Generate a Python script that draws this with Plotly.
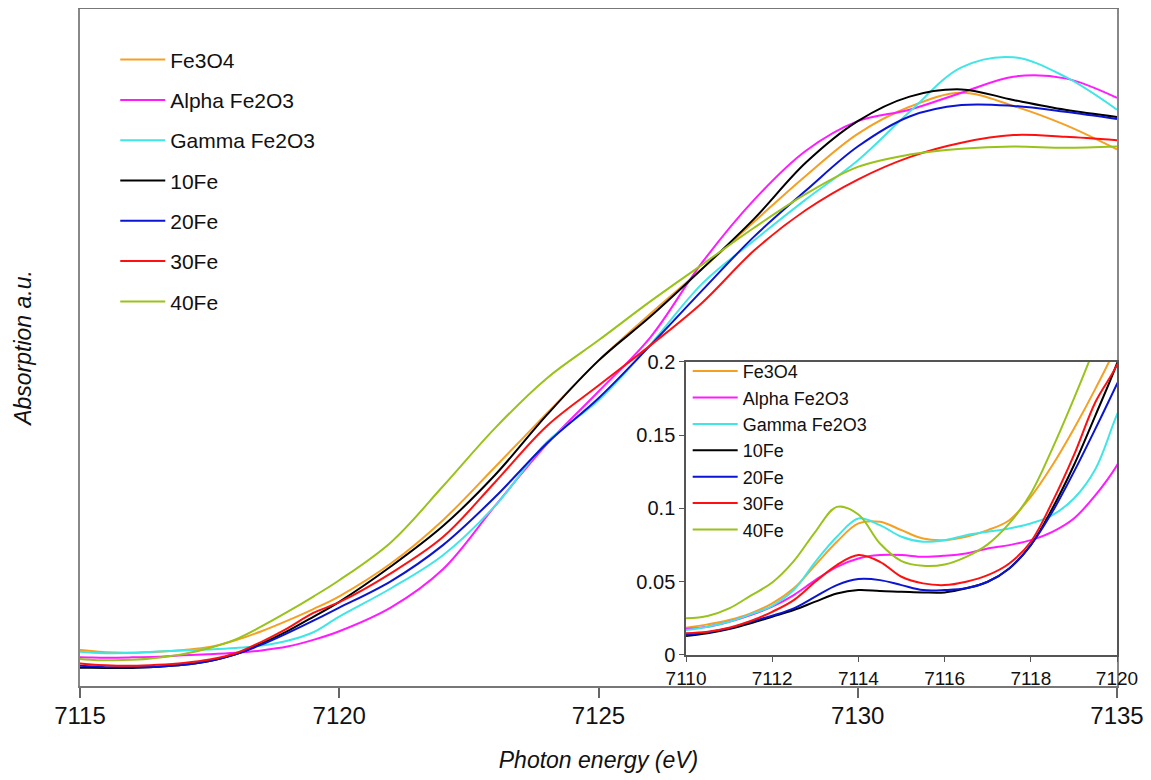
import plotly.graph_objects as go

# photon energy (eV): fine steps through the pre-edge, 1 eV steps above
energy = [7110, 7110.5, 7111, 7111.5, 7112, 7112.5, 7113, 7113.5, 7114, 7114.5,
          7115, 7115.5, 7116, 7116.5, 7117, 7117.5, 7118, 7118.5, 7119, 7119.5,
          7120, 7121, 7122, 7123, 7124, 7125, 7126, 7127, 7128, 7129,
          7130, 7131, 7132, 7133, 7134, 7135]

fe3o4 = [0.0186, 0.0209, 0.0239, 0.0284, 0.0352, 0.0455, 0.0614, 0.0773, 0.0898, 0.0909,
         0.0852, 0.0795, 0.0784, 0.0807, 0.0852, 0.092, 0.108, 0.1295, 0.1545, 0.1818,
         0.212, 0.290, 0.392, 0.517, 0.644, 0.769, 0.880, 0.986, 1.097, 1.206,
         1.305, 1.369, 1.402, 1.371, 1.326, 1.268]
alpha_fe2o3 = [0.0177, 0.0193, 0.0227, 0.0273, 0.033, 0.0409, 0.0511, 0.0602, 0.0659, 0.0682,
               0.0682, 0.067, 0.0677, 0.0693, 0.0727, 0.075, 0.0784, 0.0841, 0.0932, 0.1091,
               0.1295, 0.186, 0.276, 0.425, 0.571, 0.696, 0.824, 1.001, 1.149, 1.265,
               1.335, 1.362, 1.402, 1.440, 1.436, 1.390]
gamma_fe2o3 = [0.017, 0.0193, 0.0227, 0.0277, 0.0336, 0.0443, 0.0636, 0.0807, 0.0932, 0.0886,
               0.0807, 0.0773, 0.0784, 0.0818, 0.0841, 0.0864, 0.0898, 0.0955, 0.1068, 0.127,
               0.164, 0.231, 0.309, 0.425, 0.576, 0.675, 0.807, 0.951, 1.053, 1.150,
               1.242, 1.357, 1.462, 1.486, 1.440, 1.362]
fe10 = [0.013, 0.0148, 0.0177, 0.0216, 0.0261, 0.0307, 0.0364, 0.042, 0.0443, 0.0436,
        0.0432, 0.0427, 0.0427, 0.0455, 0.05, 0.0591, 0.075, 0.1, 0.1295, 0.1636,
        0.199, 0.283, 0.378, 0.498, 0.640, 0.769, 0.873, 0.986, 1.104, 1.237,
        1.335, 1.393, 1.410, 1.385, 1.362, 1.345]
fe20 = [0.0136, 0.0155, 0.0182, 0.0227, 0.0268, 0.0318, 0.0398, 0.0477, 0.0518, 0.0511,
        0.0477, 0.0443, 0.0443, 0.0455, 0.05, 0.0591, 0.075, 0.0977, 0.125, 0.1545,
        0.185, 0.248, 0.333, 0.446, 0.573, 0.680, 0.805, 0.935, 1.062, 1.171,
        1.275, 1.346, 1.373, 1.371, 1.357, 1.340]
fe30 = [0.0148, 0.0159, 0.0186, 0.0232, 0.0295, 0.0375, 0.05, 0.0614, 0.0682, 0.0636,
        0.0534, 0.0489, 0.0477, 0.05, 0.0545, 0.0625, 0.0773, 0.1045, 0.1364, 0.1727,
        0.198, 0.267, 0.352, 0.481, 0.614, 0.710, 0.805, 0.906, 1.029, 1.125,
        1.197, 1.250, 1.284, 1.302, 1.298, 1.290]
fe40 = [0.025, 0.0266, 0.0318, 0.0405, 0.0495, 0.0641, 0.0841, 0.1011, 0.0959, 0.0761,
        0.0641, 0.0609, 0.0618, 0.067, 0.0755, 0.0898, 0.1102, 0.1409, 0.175, 0.2114,
        0.250, 0.340, 0.472, 0.609, 0.727, 0.817, 0.909, 0.996, 1.083, 1.163,
        1.227, 1.256, 1.270, 1.275, 1.272, 1.275]

names = ['Fe3O4', 'Alpha Fe2O3', 'Gamma Fe2O3', '10Fe', '20Fe', '30Fe', '40Fe']
series = [fe3o4, alpha_fe2o3, gamma_fe2o3, fe10, fe20, fe30, fe40]
colors = ['#F5A023', '#FF1AFF', '#40E6E6', '#000000', '#0A14D2', '#FF1010', '#99C21A']

font = 'Arial, Liberation Sans, sans-serif'
fig = go.Figure()

# main plot
for i, (name, ys, c) in enumerate(zip(names, series, colors)):
    fig.add_scatter(x=energy, y=ys, name=name, mode='lines', line_shape='spline',
                    line=dict(color=c, width=2), legendgroup='m%d' % i,
                    legend='legend', xaxis='x', yaxis='y')

# inset (pre-edge)
for i, (name, ys, c) in enumerate(zip(names, series, colors)):
    fig.add_scatter(x=energy, y=ys, name=name, mode='lines', line_shape='spline',
                    line=dict(color=c, width=2), legend='legend2',
                    xaxis='x2', yaxis='y2')

# page body has an 8px margin, so the figure is 8px smaller than the window
fig.update_layout(
    width=1143, height=772,
    margin=dict(l=72, r=34, t=1, b=94, autoexpand=False),
    paper_bgcolor='white', plot_bgcolor='white',
    font=dict(family=font, color='#111'),
    xaxis=dict(range=[7115, 7135], dtick=5, ticks='outside', ticklen=10,
               tickcolor='#666', tickwidth=1.5, showline=True, linecolor='#777',
               linewidth=2, mirror=True, showgrid=False, zeroline=False,
               tickfont=dict(size=24), ticklabelstandoff=-3,
               title=dict(text='<i>Photon energy (eV)</i>', font=dict(size=23), standoff=24)),
    yaxis=dict(range=[0, 1.6], showticklabels=False, ticks='', showline=True,
               linecolor='#888', linewidth=2, mirror=True, showgrid=False, zeroline=False,
               title=dict(text='<i>Absorption a.u.</i>', font=dict(size=23), standoff=40)),
    xaxis2=dict(domain=[0.5844, 1.0], range=[7110, 7120], dtick=2, ticks='outside',
                ticklen=5, tickcolor='#555', showline=True, linecolor='#555',
                linewidth=1.5, mirror=True, showgrid=False, zeroline=False,
                tickfont=dict(size=19), anchor='y2'),
    yaxis2=dict(domain=[0.0458, 0.4786], range=[0, 0.2], dtick=0.05, ticks='outside',
                ticklen=5, tickcolor='#555', showline=True, linecolor='#555',
                linewidth=1.5, mirror=True, showgrid=False, zeroline=False,
                tickfont=dict(size=20), anchor='x2'),
    legend=dict(x=0.034, y=0.955, xanchor='left', yanchor='top', bgcolor='rgba(0,0,0,0)',
                font=dict(size=21), tracegroupgap=10, itemwidth=45),
    legend2=dict(x=0.586, y=0.492, xanchor='left', yanchor='top', bgcolor='rgba(0,0,0,0)',
                 font=dict(size=18), itemwidth=45, tracegroupgap=0),
)

fig.write_html('out.html')
